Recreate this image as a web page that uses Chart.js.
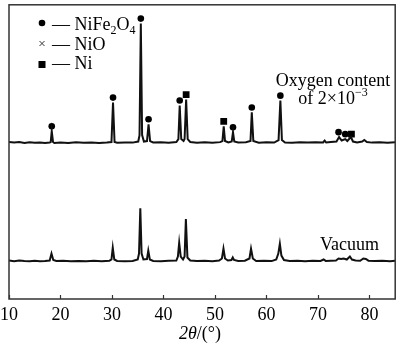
<!DOCTYPE html>
<html>
<head>
<meta charset="utf-8">
<script src="https://cdn.jsdelivr.net/npm/chart.js@4.4.1/dist/chart.umd.min.js"></script>
<style>
    html, body { margin: 0; padding: 0; background: #fff; }
    #wrap { width: 400px; height: 346px; position: relative; }
</style>
</head>
<body>
<div id="wrap"><canvas id="xrd"></canvas></div>
<script>
// --- XRD DATA (2theta in degrees, intensity in arbitrary units above baseline) ---

const thetaTicks = [10, 20, 30, 40, 50, 60, 70, 80];

// sample sintered with oxygen content of 2x10^-3
const oxygenPattern = [
    [10, 1], [11, 0.5], [12, 1], [13, 0], [14, 0.8], [15, 0.2], [16, 0.6], [17, 0],
    [17.9, 0.5], [18.1, 1], [18.3, 12], [18.55, 1], [18.8, 0], [20, 0.6], [21.5, 0],
    [23, 0.7], [24.5, 0.2], [26, 0.6], [27.5, 0], [29, 0.5], [29.9, 1], [30.2, 41],
    [30.5, 1], [31, 0.3], [32.5, 0.6], [34, 0.4], [35.1, 1.5], [35.35, 8], [35.6, 121],
    [35.85, 8], [36.2, 1.5], [36.8, 2], [37.1, 19], [37.4, 2], [38, 0.5], [39.5, 0.8],
    [41, 0.3], [42.5, 1], [42.9, 4], [43.15, 38], [43.45, 4], [43.9, 2], [44.1, 4],
    [44.4, 44], [44.7, 4], [45.2, 1], [46.5, 0.3], [48, 0.8], [49.5, 0.2], [51, 0.9],
    [51.45, 2], [51.7, 17], [51.95, 2], [52.6, 0.6], [53.25, 1.5], [53.5, 11],
    [53.75, 1.5], [54.5, 0.5], [56, 0.8], [56.9, 2], [57.15, 31], [57.45, 2], [58.5, 0.3],
    [60, 0.8], [61.5, 0.5], [62.35, 3], [62.7, 43], [63.0, 3], [63.6, 0.6], [65, 0.2],
    [66.5, 0.8], [68, 0.4], [69.5, 0.7], [71, 0.6], [71.3, 2.5], [71.6, 0.5], [72.5, 1],
    [73.6, 1.5], [74.1, 6], [74.6, 2.5], [75.3, 4], [75.7, 2], [76.4, 6], [76.8, 1.5],
    [77.6, 0.6], [78.6, 1.5], [79, 3], [79.5, 1], [80.5, 0.4], [82, 0.8], [83.5, 0.3],
    [85, 0.7]
];

// sample sintered in vacuum
const vacuumPattern = [
    [10, 1], [11, 0.3], [12, 1], [13, 0.5], [14, 0.2], [15, 0.8], [16, 0.3], [17, 0.6],
    [17.9, 1], [18.25, 8], [18.6, 1.5], [19.2, 0.5], [20.5, 0.8], [22, 0.3], [23.5, 0.6],
    [25, 0.2], [26.5, 0.7], [28, 0.3], [29.5, 0.8], [29.9, 2], [30.15, 14], [30.45, 2],
    [31, 0.6], [32.5, 0.3], [34, 0.6], [35.0, 2], [35.25, 8], [35.5, 54], [35.75, 8],
    [36.1, 2], [36.8, 2.5], [37.05, 11], [37.35, 2], [38, 0.6], [39.5, 0.3], [41, 0.8],
    [42.5, 1], [42.8, 5], [43.05, 19], [43.35, 5], [43.8, 2], [44.1, 5], [44.35, 43],
    [44.65, 4], [45.2, 1], [46.5, 0.4], [48, 0.8], [49.5, 0.2], [50.8, 1], [51.35, 3],
    [51.65, 13], [51.95, 3], [52.5, 1], [53.2, 1.5], [53.45, 4], [53.7, 1.5], [54.5, 0.5],
    [55.8, 0.8], [56.7, 3], [57.0, 13], [57.35, 3], [58, 0.5], [59.5, 0.8], [61, 0.4],
    [61.9, 2], [62.3, 8], [62.6, 18], [62.9, 6], [63.4, 1.5], [64.5, 0.5], [66, 0.8],
    [67.5, 0.3], [69, 0.7], [70.5, 0.5], [71.1, 2], [71.5, 0.6], [72.5, 0.8], [73.5, 1],
    [74, 3], [74.5, 2.5], [75, 3], [75.6, 2], [76.2, 5], [76.6, 2], [77.3, 1], [78.2, 0.8],
    [78.8, 3], [79.3, 2.5], [79.8, 0.8], [81, 0.5], [82.5, 0.8], [84, 0.3], [85, 0.8]
];

// indexed phase peaks on the oxygen pattern: [2theta, peak top]
const nife2o4Peaks = [
    [18.3, 12], [30.2, 41], [35.6, 121], [37.1, 19], [43.15, 38], [53.5, 11],
    [57.15, 31], [62.7, 43], [74.0, 6], [75.3, 4]
];
const niPeaks = [[44.4, 44], [51.7, 17], [76.5, 4]];

// --- PLOT SETTINGS ---

const OXY_BASE = 158;   // vertical offset of the upper pattern
const VAC_BASE = 38;    // vertical offset of the lower pattern
const MARK_GAP = 5;
const SERIF = '"Liberation Serif", "Times New Roman", serif';

function shifted(pattern, base) {
    return pattern.map(([t, c]) => ({ x: t, y: c + base }));
}

function marks(peaks, base) {
    return peaks.map(([t, h]) => ({ x: t, y: h + base + MARK_GAP }));
}

// --- DECORATION: frame, inward ticks, legend, captions ---

const decor = {
    id: 'decor',
    afterDraw(chart) {
        const { ctx, chartArea: a, scales } = chart;
        const xs = scales.x;
        ctx.save();

        ctx.strokeStyle = '#333';
        ctx.lineWidth = 1.5;
        ctx.strokeRect(a.left, a.top, a.right - a.left, a.bottom - a.top);

        ctx.lineWidth = 1.2;
        thetaTicks.forEach(v => {
            const px = Math.round(xs.getPixelForValue(v)) + 0.5;
            ctx.beginPath();
            ctx.moveTo(px, a.bottom);
            ctx.lineTo(px, a.bottom - 4);
            ctx.stroke();
        });

        ctx.fillStyle = '#000';
        ctx.textBaseline = 'alphabetic';
        ctx.textAlign = 'left';

        const runs = (x, y, parts) => {
            parts.forEach(([txt, font, dy]) => {
                ctx.font = font;
                ctx.fillText(txt, x, y + dy);
                x += ctx.measureText(txt).width;
            });
            return x;
        };

        // legend
        const big = '18px ' + SERIF;
        const small = '12px ' + SERIF;
        const lx = 42, tx = 52;
        ctx.beginPath();
        ctx.arc(lx, 23, 3.3, 0, Math.PI * 2);
        ctx.fill();
        ctx.lineWidth = 1;
        ctx.beginPath();
        ctx.moveTo(lx - 2.5, 41); ctx.lineTo(lx + 2.5, 46);
        ctx.moveTo(lx + 2.5, 41); ctx.lineTo(lx - 2.5, 46);
        ctx.stroke();
        ctx.fillRect(lx - 3.5, 61, 7, 7);

        runs(tx, 30, [['\u2014 NiFe', big, 0], ['2', small, 4], ['O', big, 0], ['4', small, 4]]);
        runs(tx, 50, [['\u2014 NiO', big, 0]]);
        runs(tx, 69, [['\u2014 Ni', big, 0]]);

        // sample captions
        const cap = '18px ' + SERIF;
        const sup = '12px ' + SERIF;
        ctx.font = cap;
        ctx.textAlign = 'center';
        ctx.fillText('Oxygen content', 333, 86);
        ctx.textAlign = 'left';
        const w1 = ctx.measureText('of 2\u00d710').width;
        ctx.font = sup;
        const w2 = ctx.measureText('\u22123').width;
        runs(333 - (w1 + w2) / 2, 104, [['of 2\u00d710', cap, 0], ['\u22123', sup, -8]]);

        ctx.font = cap;
        ctx.fillText('Vacuum', 320, 250);

        // axis title: 2θ/(°)
        ctx.font = 'italic 18px ' + SERIF;
        const ti = ctx.measureText('2\u03b8').width;
        ctx.font = '18px ' + SERIF;
        const tr = ctx.measureText('/(\u00b0)').width;
        runs(200 - (ti + tr) / 2, 339, [['2\u03b8', 'italic 18px ' + SERIF, 0], ['/(\u00b0)', '18px ' + SERIF, 0]]);

        ctx.restore();
    }
};

// --- CHART ---

new Chart(document.getElementById('xrd'), {
    type: 'line',
    data: {
        datasets: [
            {
                data: shifted(oxygenPattern, OXY_BASE),
                borderColor: '#111', borderWidth: 2,
                pointRadius: 0, tension: 0, fill: false
            },
            {
                data: shifted(vacuumPattern, VAC_BASE),
                borderColor: '#111', borderWidth: 2,
                pointRadius: 0, tension: 0, fill: false
            },
            {
                data: marks(nife2o4Peaks, OXY_BASE),
                showLine: false, pointStyle: 'circle', pointRadius: 3.3,
                pointBackgroundColor: '#000', pointBorderWidth: 0
            },
            {
                data: marks(niPeaks, OXY_BASE),
                showLine: false, pointStyle: 'rect', pointRadius: 4.8,
                pointBackgroundColor: '#000', pointBorderWidth: 0
            }
        ]
    },
    options: {
        responsive: true,
        maintainAspectRatio: false,
        animation: false,
        devicePixelRatio: 1,
        layout: { padding: { left: 9, right: 1, top: 1, bottom: 0 } },
        plugins: { legend: { display: false }, tooltip: { enabled: false } },
        scales: {
            x: {
                type: 'linear', min: 10, max: 85,
                afterBuildTicks: s => { s.ticks = thetaTicks.map(v => ({ value: v })); },
                afterFit: s => { s.height = 47; s.paddingLeft = 0; s.paddingRight = 0; },
                grid: { display: false, drawTicks: false },
                border: { display: false },
                ticks: { padding: 5, color: '#000', font: { family: SERIF, size: 18 }, maxRotation: 0, autoSkip: false }
            },
            y: { display: false, min: 0, max: 298 }
        }
    },
    plugins: [decor]
});
</script>
</body>
</html>
